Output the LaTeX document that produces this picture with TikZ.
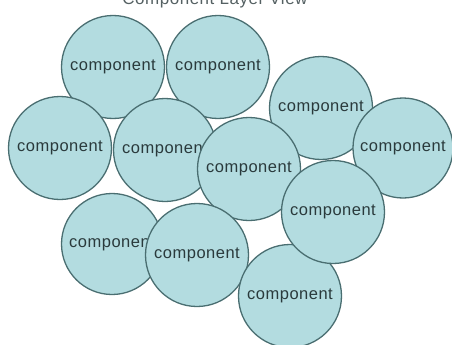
\documentclass[tikz,border=0pt]{standalone}
\usepackage{fontspec}
\setmainfont{Liberation Sans}[LetterSpace=3]
\definecolor{cfill}{HTML}{B3DCE0}
\definecolor{cedge}{HTML}{4A6E71}
\definecolor{ctext}{HTML}{2A3A3C}
\begin{document}
\begin{tikzpicture}[x=1pt,y=-1pt,
  comp/.style={circle,draw=cedge,fill=cfill,line width=1.3pt,minimum size=#1,inner sep=0pt,
    font=\fontsize{16.5}{18}\selectfont,text=ctext},
  comp/.default=103pt,
  ttl/.style={font=\fontsize{17}{19}\selectfont,text=ctext!80,anchor=base}]
\useasboundingbox (0,0) rectangle (452,345);
\clip (0,0) rectangle (452,345);
\node[ttl] (title) at (215,5) {Component Layer View};
\node[comp] (c1) at (113,67) {component};
\node[comp] (c2) at (218,67) {component};
\node[comp] (c3) at (321,108) {component};
\node[comp] (c4) at (60,148) {component};
\node[comp] (c5) at (165,150) {component};
\node[comp] (c6) at (249,169) {component};
\node[comp=100pt] (c7) at (403,148) {component};
\node[comp=101pt] (c9) at (112,244) {component};
\node[comp] (c10) at (197,255) {component};
\node[comp] (c11) at (290,296) {component};
\node[comp] (c8) at (333,212) {component};
\end{tikzpicture}
\end{document}
